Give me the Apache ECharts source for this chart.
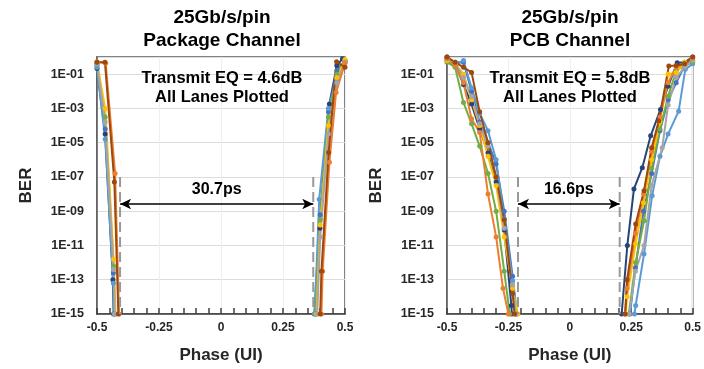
<!DOCTYPE html>
<html>
<head>
<meta charset="utf-8">
<script src="https://cdn.jsdelivr.net/npm/echarts@6/dist/echarts.min.js"></script>
<style>html,body{margin:0;padding:0;background:#fff}#c{width:704px;height:369px}</style>
</head>
<body>
<div id="c"></div>
<script>
// ---- Tick labels ----
const xTicks = [-0.5, -0.25, 0, 0.25, 0.5];
const yTickLabels = ['1E-15','1E-13','1E-11','1E-09','1E-07','1E-05','1E-03','1E-01'];

// ---- Lane colours (8 lanes) ----
const laneNames = ['Lane0','Lane1','Lane2','Lane3','Lane4','Lane5','Lane6','Lane7'];
const laneColors = ['#264478','#4472C4','#5B9BD5','#70AD47','#FFC000','#A5A5A5','#ED7D31','#9E480E'];

// ---- Package channel: [phase UI, log10(BER)] ----
const pkgLeft_lane0 = [[-0.5,-0.67],[-0.467,-4.5],[-0.436,-13.0],[-0.433,-15]];
const pkgLeft_lane1 = [[-0.5,-0.5],[-0.467,-4.2],[-0.434,-12.6],[-0.429,-15]];
const pkgLeft_lane2 = [[-0.5,-0.6],[-0.467,-4.8],[-0.434,-13.2],[-0.431,-15]];
const pkgLeft_lane3 = [[-0.5,-0.4],[-0.467,-3.5],[-0.433,-12.2],[-0.427,-15]];
const pkgLeft_lane4 = [[-0.5,-0.3],[-0.467,-3.0],[-0.433,-11.8],[-0.425,-15]];
const pkgLeft_lane5 = [[-0.5,-0.4],[-0.467,-3.8],[-0.433,-12.4],[-0.428,-15]];
const pkgLeft_lane6 = [[-0.5,-0.28],[-0.465,-0.36],[-0.427,-6.8],[-0.411,-15]];
const pkgLeft_lane7 = [[-0.5,-0.3],[-0.468,-0.3],[-0.43,-7.3],[-0.414,-15]];

const pkgRight_lane0 = [[0.49,-0.1],[0.467,-0.5],[0.437,-2.75],[0.399,-10.0],[0.383,-15]];
const pkgRight_lane1 = [[0.5,-0.2],[0.467,-0.8],[0.433,-3.2],[0.4,-9.2],[0.376,-15]];
const pkgRight_lane2 = [[0.5,-0.3],[0.467,-1.3],[0.433,-3.0],[0.396,-8.3],[0.378,-15]];
const pkgRight_lane3 = [[0.5,-0.2],[0.467,-1.0],[0.433,-3.5],[0.4,-9.5],[0.381,-15]];
const pkgRight_lane4 = [[0.5,-0.15],[0.467,-1.2],[0.433,-4.0],[0.4,-9.8],[0.385,-15]];
const pkgRight_lane5 = [[0.5,-0.3],[0.467,-1.5],[0.433,-4.5],[0.4,-10.5],[0.388,-15]];
const pkgRight_lane6 = [[0.5,-0.35],[0.464,-2.07],[0.437,-6.15],[0.41,-12.5],[0.405,-15]];
const pkgRight_lane7 = [[0.5,-0.6],[0.466,-0.28],[0.434,-5.57],[0.405,-12.5],[0.4,-15]];

// ---- PCB channel: [phase UI, log10(BER)] ----
const pcbLeft_lane0 = [[-0.5,0],[-0.467,-0.4],[-0.433,-1.6],[-0.4,-2.75],[-0.367,-4.2],[-0.333,-5.6],[-0.3,-7.3],[-0.267,-10.1],[-0.238,-14.5],[-0.236,-15]];
const pcbLeft_lane1 = [[-0.5,-0.1],[-0.467,-0.3],[-0.433,-0.3],[-0.4,-2.0],[-0.367,-3.8],[-0.333,-5.0],[-0.3,-6.25],[-0.267,-9.0],[-0.233,-12.8],[-0.215,-15]];
const pcbLeft_lane2 = [[-0.5,-0.2],[-0.467,-0.5],[-0.433,-0.2],[-0.4,-1.8],[-0.367,-3.3],[-0.333,-4.3],[-0.3,-6.0],[-0.267,-9.46],[-0.233,-13.06],[-0.22,-15]];
const pcbLeft_lane3 = [[-0.5,-0.3],[-0.467,-0.6],[-0.433,-2.65],[-0.4,-3.9],[-0.367,-5.2],[-0.333,-6.8],[-0.3,-9.0],[-0.267,-12.5],[-0.245,-15]];
const pcbLeft_lane4 = [[-0.5,-0.2],[-0.467,-0.4],[-0.433,-1.0],[-0.4,-2.5],[-0.367,-4.0],[-0.333,-5.8],[-0.3,-7.5],[-0.267,-10.5],[-0.233,-13.5],[-0.212,-15]];
const pcbLeft_lane5 = [[-0.5,-0.1],[-0.467,-0.3],[-0.433,-1.2],[-0.4,-2.3],[-0.367,-3.9],[-0.333,-5.2],[-0.3,-7.0],[-0.267,-10.0],[-0.233,-13.3],[-0.22,-15]];
const pcbLeft_lane6 = [[-0.5,-0.1],[-0.467,-0.5],[-0.433,-1.5],[-0.4,-3.6],[-0.367,-4.4],[-0.333,-8.0],[-0.3,-10.5],[-0.272,-13.5],[-0.25,-15]];
const pcbLeft_lane7 = [[-0.5,0],[-0.467,-0.3],[-0.433,-0.6],[-0.4,-0.9],[-0.367,-3.2],[-0.333,-5.0],[-0.3,-7.0],[-0.267,-9.5],[-0.233,-13.8],[-0.225,-15]];

const pcbRight_lane0 = [[0.5,0],[0.467,-0.3],[0.437,-0.34],[0.4,-1.7],[0.369,-3.06],[0.329,-4.6],[0.295,-6.46],[0.261,-7.7],[0.234,-11.0],[0.211,-15]];
const pcbRight_lane1 = [[0.5,-0.2],[0.467,-0.5],[0.433,-1.5],[0.4,-2.5],[0.367,-4.3],[0.333,-6.8],[0.3,-9.0],[0.267,-12.3],[0.245,-15]];
const pcbRight_lane2 = [[0.5,-0.4],[0.47,-0.72],[0.443,-3.16],[0.4,-4.5],[0.367,-5.8],[0.335,-8.1],[0.302,-11.5],[0.268,-14.5],[0.263,-15]];
const pcbRight_lane3 = [[0.5,-0.3],[0.467,-0.5],[0.433,-0.8],[0.4,-2.3],[0.367,-4.2],[0.333,-6.5],[0.302,-9.56],[0.268,-12.0],[0.24,-15]];
const pcbRight_lane4 = [[0.5,-0.1],[0.467,-0.3],[0.433,-0.9],[0.4,-1.0],[0.367,-3.8],[0.333,-6.0],[0.3,-8.5],[0.268,-10.9],[0.233,-14.0],[0.228,-15]];
const pcbRight_lane5 = [[0.5,-0.2],[0.467,-0.6],[0.433,-1.2],[0.4,-2.8],[0.376,-5.3],[0.333,-7.5],[0.302,-11.0],[0.267,-12.5],[0.242,-15]];
const pcbRight_lane6 = [[0.5,-0.05],[0.467,-0.4],[0.433,-0.6],[0.4,-1.5],[0.367,-3.5],[0.333,-5.5],[0.3,-8.0],[0.267,-10.3],[0.233,-13.5],[0.225,-15]];
const pcbRight_lane7 = [[0.5,0],[0.467,-0.4],[0.433,-0.5],[0.403,-0.53],[0.362,-3.74],[0.333,-5.3],[0.302,-7.8],[0.268,-9.75],[0.233,-13.0],[0.225,-15]];

// ---- Eye opening annotations ----
const pkgEyeEdges = [-0.407, 0.372];   // phase of dashed lines
const pcbEyeEdges = [-0.211, 0.203];
const eyeLabels = ['30.7ps', '16.6ps'];
const eyeTopLogBer = -7;       // dashed lines start
const arrowLogBer = -8.58;     // arrow level
const eqLabels = ['Transmit EQ = 4.6dB\nAll Lanes Plotted', 'Transmit EQ = 5.8dB\nAll Lanes Plotted'];
const plotTitles = ['25Gb/s/pin\nPackage Channel', '25Gb/s/pin\nPCB Channel'];

const pkgLanes = [pkgLeft_lane0,pkgLeft_lane1,pkgLeft_lane2,pkgLeft_lane3,pkgLeft_lane4,pkgLeft_lane5,pkgLeft_lane6,pkgLeft_lane7,
                  pkgRight_lane0,pkgRight_lane1,pkgRight_lane2,pkgRight_lane3,pkgRight_lane4,pkgRight_lane5,pkgRight_lane6,pkgRight_lane7];
const pcbLanes = [pcbLeft_lane0,pcbLeft_lane1,pcbLeft_lane2,pcbLeft_lane3,pcbLeft_lane4,pcbLeft_lane5,pcbLeft_lane6,pcbLeft_lane7,
                  pcbRight_lane0,pcbRight_lane1,pcbRight_lane2,pcbRight_lane3,pcbRight_lane4,pcbRight_lane5,pcbRight_lane6,pcbRight_lane7];

const FONT = '"Liberation Sans", Arial, sans-serif';
const txt = '#262626';

function xAxisCfg(gi) {
  return {
    type: 'value', gridIndex: gi, min: -0.5, max: 0.5, interval: 0.05,
    name: 'Phase (UI)', nameLocation: 'middle', nameGap: 33,
    nameTextStyle: { fontFamily: FONT, fontWeight: 'bold', fontSize: 17, color: txt },
    axisLine: { show: true, onZero: false, lineStyle: { color: '#404040', width: 1.5 } },
    axisTick: { show: true, inside: true, length: 6, interval: 0, lineStyle: { color: '#404040', width: 1.5 } },
    axisLabel: { show: true, interval: 0, hideOverlap: false, fontFamily: FONT, fontWeight: 'bold', fontSize: 12, color: txt, margin: 8,
      formatter: v => { const k = Math.round(v * 100); if (k % 25 !== 0) return ''; return k === 0 ? '0' : String(k / 100); } },
    splitLine: { show: false }
  };
}
function xGridAxisCfg(gi) {
  return {
    type: 'value', gridIndex: gi, min: -0.5, max: 0.5, interval: 0.25, position: 'bottom',
    axisLine: { show: false, onZero: false }, axisTick: { show: false }, axisLabel: { show: false },
    splitLine: { show: true, lineStyle: { color: '#efefef', width: 1 } }
  };
}
function yAxisCfg(gi) {
  return {
    type: 'value', gridIndex: gi, min: -15, max: 0, interval: 2,
    name: 'BER', nameLocation: 'middle', nameGap: 62, nameRotate: 90,
    nameTextStyle: { fontFamily: FONT, fontWeight: 'bold', fontSize: 17, color: txt },
    axisLine: { show: true, onZero: false, lineStyle: { color: '#595959', width: 1.5 } },
    axisTick: { show: false },
    axisLabel: { fontFamily: FONT, fontWeight: 'bold', fontSize: 12.5, color: txt, margin: 13,
      formatter: v => { if (v > -0.5) return ''; const i = (Math.round(v) + 15) / 2; return yTickLabels[i] || ''; } },
    splitLine: { show: true, lineStyle: { color: '#dcdcdc', width: 1 } }
  };
}

const series = [];
function addLanes(lanes, gi) {
  lanes.forEach((d, i) => {
    const c = laneColors[i % 8];
    series.push({
      name: laneNames[i % 8], type: 'line', xAxisIndex: gi, yAxisIndex: gi, data: d,
      symbol: 'circle', symbolSize: 5, clip: true, animation: false,
      lineStyle: { color: c, width: 2 }, itemStyle: { color: c }, z: 2
    });
  });
}
addLanes(pkgLanes, 0);
addLanes(pcbLanes, 1);

function addEye(edges, gi, label) {
  edges.forEach(x => {
    series.push({
      type: 'line', xAxisIndex: gi, yAxisIndex: gi, data: [[x, eyeTopLogBer], [x, -15]],
      symbol: 'none', animation: false, z: 3,
      lineStyle: { color: '#999999', width: 2, type: [10, 5] }
    });
  });
  series.push({
    type: 'line', xAxisIndex: gi, yAxisIndex: gi, data: [], symbol: 'none', animation: false, z: 4,
    markLine: {
      silent: true, animation: false, symbol: ['arrow', 'arrow'], symbolSize: [8, 11],
      lineStyle: { color: '#000', type: 'solid', width: 1.5 },
      label: { show: true, position: 'middle', formatter: label, distance: 6,
        fontFamily: FONT, fontWeight: 'bold', fontSize: 16, color: '#000' },
      data: [[{ coord: [edges[0], arrowLogBer] }, { coord: [edges[1], arrowLogBer] }]]
    }
  });
}
addEye(pkgEyeEdges, 0, eyeLabels[0]);
addEye(pcbEyeEdges, 1, eyeLabels[1]);

const chart = echarts.init(document.getElementById('c'), null, { renderer: 'canvas' });
chart.setOption({
  animation: false,
  backgroundColor: '#fff',
  grid: [
    { left: 97, right: 359, top: 57, bottom: 54, show: true, borderColor: '#595959', borderWidth: 1.5, backgroundColor: 'transparent' },
    { left: 447, right: 10, top: 57, bottom: 54, show: true, borderColor: '#595959', borderWidth: 1.5, backgroundColor: 'transparent' }
  ],
  xAxis: [xAxisCfg(0), xAxisCfg(1), xGridAxisCfg(0), xGridAxisCfg(1)],
  yAxis: [yAxisCfg(0), yAxisCfg(1)],
  graphic: [
    { type: 'text', x: 222, y: 6, style: { text: plotTitles[0], font: 'bold 19px ' + FONT, textAlign: 'center', lineHeight: 23, fill: '#000' } },
    { type: 'text', x: 570, y: 6, style: { text: plotTitles[1], font: 'bold 19px ' + FONT, textAlign: 'center', lineHeight: 23, fill: '#000' } },
    { type: 'text', x: 222, y: 69, z: 10, style: { text: eqLabels[0], font: 'bold 16.5px ' + FONT, textAlign: 'center', lineHeight: 19, fill: '#000' } },
    { type: 'text', x: 570, y: 69, z: 10, style: { text: eqLabels[1], font: 'bold 16.5px ' + FONT, textAlign: 'center', lineHeight: 19, fill: '#000' } }
  ],
  series: series
});
</script>
</body>
</html>
